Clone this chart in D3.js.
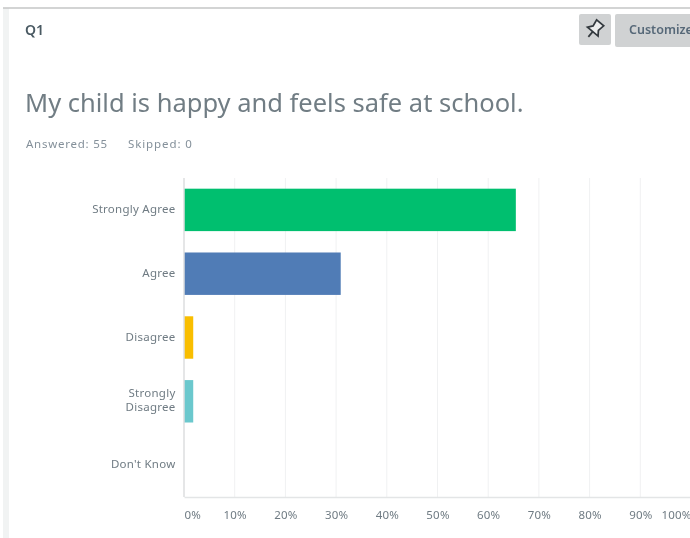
<!DOCTYPE html>
<html>
<head>
<meta charset="utf-8">
<script src="https://cdn.jsdelivr.net/npm/d3@7"></script>
<style>
    html, body { margin: 0; padding: 0; background: #fff; overflow: hidden; }
    svg { display: block; font-family: "Noto Sans", sans-serif; filter: blur(0.35px); }
</style>
</head>
<body>
<script>
const categories = ['Strongly Agree', 'Agree', 'Disagree', 'Strongly Disagree', "Don't Know"];
const percents = [65.45, 30.91, 1.82, 1.82, 0];
const barColors = ['#00bf6f', '#507cb6', '#f9be00', '#6bc8cd', '#7d5e90'];
const xTicks = [0, 10, 20, 30, 40, 50, 60, 70, 80, 90, 100];

const width = 690;
const height = 538;
const margins = { top: 178, right: -1, bottom: 41, left: 184 };

const svg = d3.select('body').append('svg')
    .attr('width', width)
    .attr('height', height);

// Page chrome
svg.append('rect').attr('x', 3).attr('y', 8).attr('width', 6).attr('height', height - 8).attr('fill', '#f1f3f3');
svg.append('line').attr('x1', 3).attr('x2', width).attr('y1', 8).attr('y2', 8)
    .style('stroke', '#c4c6c6').style('stroke-width', 1.5);

svg.append('text').attr('x', 25).attr('y', 35)
    .style('font-size', '14px').style('font-weight', 600).style('fill', '#4a5a63').text('Q1');

svg.append('text').attr('x', 25).attr('y', 112)
    .style('font-size', '25.5px').style('fill', '#717d84')
    .text('My child is happy and feels safe at school.');

svg.append('text').attr('x', 26).attr('y', 147.5)
    .style('font-size', '11.5px').style('letter-spacing', '0.75px').style('fill', '#84909a').text('Answered: 55');
svg.append('text').attr('x', 128).attr('y', 147.5)
    .style('font-size', '11.5px').style('letter-spacing', '0.9px').style('fill', '#84909a').text('Skipped: 0');

// Pin button
svg.append('rect').attr('x', 579).attr('y', 14).attr('width', 32).attr('height', 31).attr('rx', 2).attr('fill', '#d0d2d3');
const pin = svg.append('g')
    .attr('transform', 'translate(595,29) rotate(40) scale(1.15)')
    .style('fill', '#eceded').style('stroke', '#33393e').style('stroke-width', 1.5);
pin.append('path').attr('d', 'M-4,-7 H4 L3,-1 L6,3 H-6 L-3,-1 Z');
pin.append('line').attr('x1', 0).attr('x2', 0).attr('y1', 3).attr('y2', 9);

// Customize button
svg.append('rect').attr('x', 615).attr('y', 14).attr('width', 85).attr('height', 33).attr('rx', 2).attr('fill', '#d0d2d3');
svg.append('text').attr('x', 629).attr('y', 34)
    .style('font-size', '12.5px').style('font-weight', 600).style('fill', '#566878').text('Customize');

// Scales
const x = d3.scaleLinear()
    .domain([0, 100])
    .range([margins.left, width - margins.right]);

const y = d3.scaleBand()
    .domain(categories)
    .range([margins.top, height - margins.bottom])
    .paddingInner(0.335)
    .paddingOuter(0.1675);

// Gridlines
svg.append('g')
    .selectAll('line')
    .data(xTicks.slice(1))
    .join('line')
    .attr('x1', d => x(d))
    .attr('x2', d => x(d))
    .attr('y1', margins.top)
    .attr('y2', height - margins.bottom)
    .style('stroke', '#f0f1f2')
    .style('stroke-width', 1);

// Bars
svg.append('g')
    .selectAll('rect')
    .data(categories)
    .join('rect')
    .attr('x', x(0))
    .attr('y', d => y(d))
    .attr('width', (d, i) => x(percents[i]) - x(0))
    .attr('height', y.bandwidth())
    .attr('fill', (d, i) => barColors[i]);

// Axis lines
const xAxis = svg.append('g')
    .attr('transform', `translate(0,${height - margins.bottom})`)
    .call(d3.axisBottom(x).tickValues(xTicks).tickFormat(d => `${d}%`).tickSize(0).tickPadding(14));
xAxis.select('.domain').style('stroke', '#e3e5e6').style('stroke-width', 1.5);
xAxis.selectAll('text')
    .style('font-family', '"Noto Sans", sans-serif')
    .style('font-size', '11.5px')
    .style('letter-spacing', '0.2px')
    .style('fill', '#6f7b83');
xAxis.selectAll('.tick').filter(d => d === 0).select('text').attr('text-anchor', 'start');
xAxis.selectAll('.tick').filter(d => d === 100).select('text').attr('text-anchor', 'end');

svg.append('line')
    .attr('x1', x(0)).attr('x2', x(0))
    .attr('y1', margins.top).attr('y2', height - margins.bottom)
    .style('stroke', '#dcdedf').style('stroke-width', 1.5);

// Category labels, wrapped on two lines where SurveyMonkey wraps them
const labels = svg.append('g')
    .selectAll('text')
    .data(categories)
    .join('text')
    .attr('text-anchor', 'end')
    .style('font-size', '11.5px')
    .style('letter-spacing', '0.25px')
    .style('fill', '#6f7b83');

labels.each(function (d) {
    const lines = d === 'Strongly Disagree' ? d.split(' ') : [d];
    const cy = y(d) + y.bandwidth() / 2;
    d3.select(this).selectAll('tspan')
        .data(lines)
        .join('tspan')
        .attr('x', 175.5)
        .attr('y', (l, i) => cy + 3 + (i - (lines.length - 1) / 2) * 14)
        .text(l => l);
});
</script>
</body>
</html>
